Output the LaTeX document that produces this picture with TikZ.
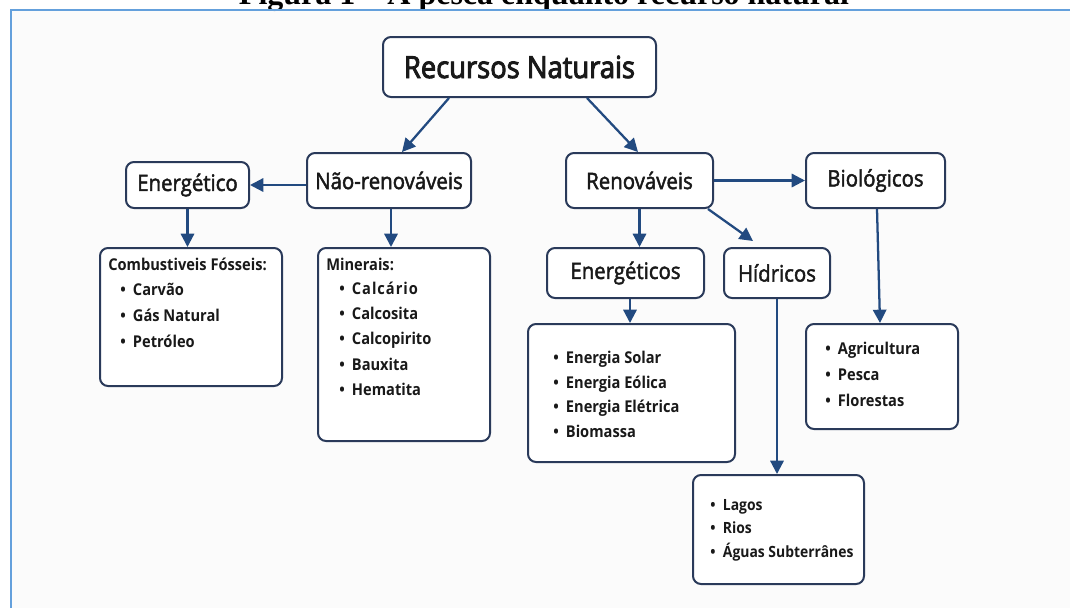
\documentclass[tikz,border=0pt]{standalone}
\usepackage{fontspec}
\setmainfont{Open Sans}
\newfontfamily\os[FakeStretch=0.9]{Open Sans}
\newfontfamily\osm[FakeStretch=0.9,FakeBold=2]{Open Sans}
\newfontfamily\osb[FakeStretch=0.9,FakeBold=3]{Open Sans}
\newfontfamily\ttl{Liberation Serif}
\usetikzlibrary{arrows.meta,calc}
\definecolor{navy}{RGB}{42,58,90}
\definecolor{arrowc}{RGB}{34,74,128}
\definecolor{framec}{RGB}{100,160,220}
\definecolor{bgc}{RGB}{251,251,251}
\definecolor{txt}{RGB}{25,25,25}
\tikzset{
  sz/.style 2 args={minimum width=#1*0.75pt, minimum height=#2*0.75pt},
  box/.style={draw=navy, line width=1.5pt, rounded corners=6pt, fill=white, inner sep=0pt, text=txt},
  big/.style={font=\osb\fontsize{22.8}{26}\selectfont},
  mid/.style={font=\osm\fontsize{17}{20}\selectfont},
  item/.style={anchor=base west, inner sep=0pt, text=txt, font=\os\bfseries\fontsize{12.2}{14}\selectfont},
  smitem/.style={item, font=\os\bfseries\fontsize{11.6}{14}\selectfont},
  arr/.style={draw=arrowc, line width=1.7pt, -{Triangle[length=10pt,width=10pt]}},
}
\newcommand\bul[1]{\makebox[9.5pt][l]{•}#1}
\begin{document}
\begin{tikzpicture}[x=0.75pt,y=-0.75pt]
\useasboundingbox (0,0) rectangle (1070,608);
\clip (0,0) rectangle (1070,608);
\fill[white] (0,0) rectangle (1070,608);
\fill[bgc] (11,10) rectangle (1070,608);
\node[anchor=base, inner sep=0pt, font=\ttl\bfseries\fontsize{24}{28}\selectfont] (title) at (544,4) {Figura 1 – A pesca enquanto recurso natural};
\draw[framec, line width=1.5pt] (10.5,608) -- (10.5,9.5) -- (1070,9.5);

% boxes
\node[box,big,sz={273}{60}] (rn) at (519.5,67) {Recursos Naturais};
\node[box,mid,sz={164}{55}] (nr) at (389,180.5) {Não-renováveis};
\node[box,mid,sz={123}{46}] (en) at (187.5,185) {Energético};
\node[box,sz={182}{138}] (comb) at (191,317) {};
\node[box,sz={172}{193}] (min) at (404,344.5) {};
\node[box,mid,sz={147}{55}] (ren) at (639.5,180.5) {Renováveis};
\node[box,mid,sz={139}{55}] (bio) at (875.5,180.5) {Biológicos};
\node[box,mid,sz={157}{50}] (eng) at (625.5,273) {Energéticos};
\node[box,mid,sz={106}{50}] (hid) at (777,273) {Hídricos};
\node[box,sz={207}{138}] (ebox) at (631.5,393) {};
\node[box,sz={152}{105}] (agr) at (882,376.5) {};
\node[box,sz={171}{109}] (lag) at (778.5,529.5) {};

% lists
\node[item] (combh) at (108,270) {Combustiveis Fósseis:};
\node[item] (c1) at (120,295.5) {\bul{Carvão}};
\node[item] (c2) at (120,321.5) {\bul{Gás Natural}};
\node[item] (c3) at (120,347.5) {\bul{Petróleo}};

\node[item] (minh) at (326,270.5) {Minerais:};
\node[item] (m1) at (339,294.5) {\bul{\addfontfeature{LetterSpace=6}Calcário}};
\node[item] (m2) at (339,319.5) {\bul{Calcosita}};
\node[item] (m3) at (339,344.5) {\bul{Calcopirito}};
\node[item] (m4) at (339,370.5) {\bul{Bauxita}};
\node[item] (m5) at (339,395.5) {\bul{Hematita}};

\node[item] (e1) at (553,363.5) {\bul{Energia Solar}};
\node[item] (e2) at (553,388.5) {\bul{Energia Eólica}};
\node[item] (e3) at (553,412.5) {\bul{Energia Elétrica}};
\node[item] (e4) at (553,437.5) {\bul{Biomassa}};

\node[item] (a1) at (825,354.5) {\bul{Agricultura}};
\node[item] (a2) at (825,380.5) {\bul{Pesca}};
\node[item] (a3) at (825,406.5) {\bul{Florestas}};

\node[smitem] (l1) at (710,510.5) {\bul{Lagos}};
\node[smitem] (l2) at (710,533.5) {\bul{Rios}};
\node[smitem] (l3) at (710,557.5) {\bul{Águas Subterrânes}};

% arrows
\coordinate (nrb) at ($(nr.south)+(2,0)$);
\draw[arr] ($(rn.south)+(-70.5,0)$) -- ($(nr.north)+(13,0)$);
\draw[arr] ($(rn.south)+(67.5,0)$) -- ($(ren.north)+(-1.5,0)$);
\draw[arr] (nr.west |- en.east) -- (en.east);
\draw[arr] (en.south) -- (en.south |- comb.north);
\draw[arr] (nrb) -- (nrb |- min.north);
\draw[arr] (ren.east) -- (bio.west);
\draw[arr] (ren.south) -- (ren.south |- eng.north);
\draw[arr] ($(ren.south east)+(-6,0)$) -- ($(hid.north)+(-24,-6)$);
\draw[arr] ($(bio.south)+(1.5,0)$) -- ($(agr.north)+(-2,0)$);
\draw[arr] ($(eng.south)+(4.5,0)$) -- ($(ebox.north)+(-1.5,0)$);
\draw[arr] (hid.south) -- (hid.south |- lag.north);
\end{tikzpicture}
\end{document}
